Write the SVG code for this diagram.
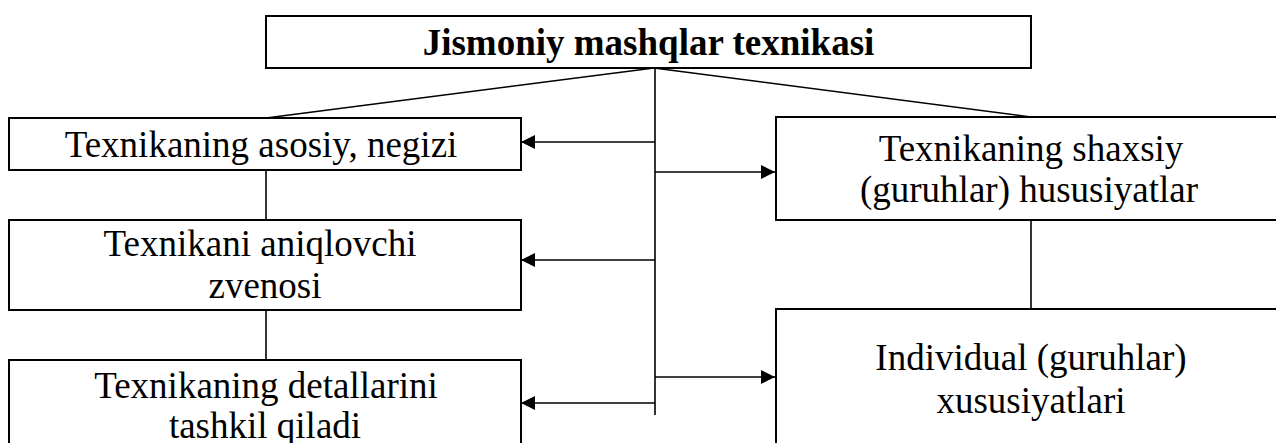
<svg xmlns="http://www.w3.org/2000/svg" width="1276" height="443" viewBox="0 0 1276 443">
<style>
.box{fill:#fff;stroke:#000;stroke-width:2}
.ln{fill:none;stroke:#000;stroke-width:1.6}
text{font-family:'Liberation Serif',serif;font-size:37px;fill:#000;text-anchor:middle}
.b{font-weight:bold}
</style>
<defs>
<marker id="ah" markerUnits="userSpaceOnUse" markerWidth="14" markerHeight="14" refX="14" refY="7" orient="auto" viewBox="0 0 14 14">
<path d="M0,0 L14,7 L0,14 z" fill="#000"/>
</marker>
</defs>
<rect width="1276" height="443" fill="#fff"/>
<g id="connectors">
<path class="ln" d="M654,68 L266,118"/>
<path class="ln" d="M654,68 L1031,117"/>
<path class="ln" d="M655,68 V415"/>
<path class="ln" d="M655,142 H521" marker-end="url(#ah)"/>
<path class="ln" d="M655,260 H521" marker-end="url(#ah)"/>
<path class="ln" d="M655,403 H521" marker-end="url(#ah)"/>
<path class="ln" d="M655,172 H775" marker-end="url(#ah)"/>
<path class="ln" d="M655,377 H775" marker-end="url(#ah)"/>
<path class="ln" d="M266,170 V220"/>
<path class="ln" d="M266,310 V360"/>
<path class="ln" d="M1031,220 V309"/>
</g>
<g id="node-title">
<rect class="box" x="266" y="16" width="765" height="52"/>
<text class="b" x="648.5" y="55" font-family="Liberation Serif, serif">Jismoniy mashqlar texnikasi</text>
</g>
<g id="node-asosiy">
<rect class="box" x="9" y="118" width="512" height="52"/>
<text x="261" y="157" font-family="Liberation Serif, serif">Texnikaning asosiy, negizi</text>
</g>
<g id="node-aniqlovchi">
<rect class="box" x="9" y="220" width="512" height="90"/>
<text x="260" y="256" font-family="Liberation Serif, serif">Texnikani aniqlovchi</text>
<text x="265" y="298" font-family="Liberation Serif, serif">zvenosi</text>
</g>
<g id="node-detallar">
<rect class="box" x="9" y="360" width="512" height="100"/>
<text x="266" y="398" font-family="Liberation Serif, serif">Texnikaning detallarini</text>
<text x="265" y="438" font-family="Liberation Serif, serif">tashkil qiladi</text>
</g>
<g id="node-shaxsiy">
<rect class="box" x="776" y="117" width="510" height="103"/>
<text x="1031" y="161" font-family="Liberation Serif, serif">Texnikaning shaxsiy</text>
<text x="1029" y="202" font-family="Liberation Serif, serif">(guruhlar) hususiyatlar</text>
</g>
<g id="node-individual">
<rect class="box" x="776" y="309" width="510" height="150"/>
<text x="1031" y="370" font-family="Liberation Serif, serif">Individual (guruhlar)</text>
<text x="1031" y="413" font-family="Liberation Serif, serif">xususiyatlari</text>
</g>
</svg>
